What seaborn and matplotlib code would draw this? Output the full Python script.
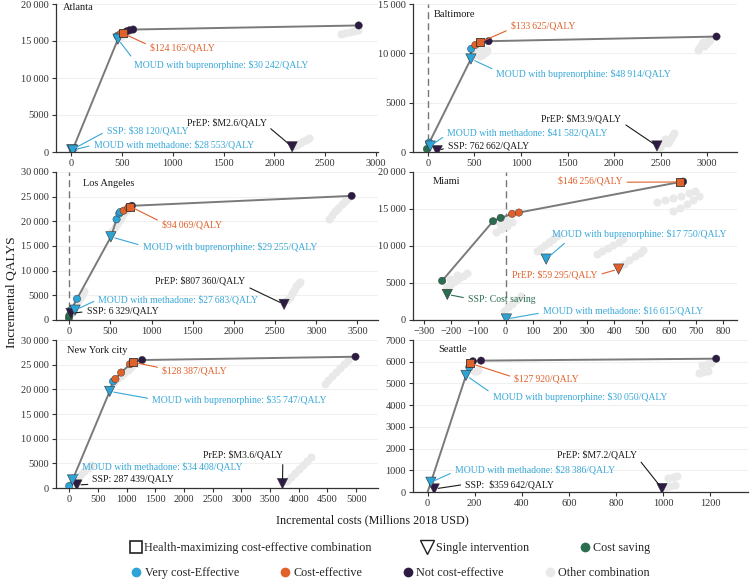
import pandas as pd
import matplotlib.pyplot as plt
import seaborn as sns
from matplotlib.lines import Line2D
from matplotlib.ticker import FuncFormatter, MultipleLocator

sns.set_theme(style="white")
plt.rcParams['font.family'] = ['Liberation Serif', 'DejaVu Serif']

TS = '\u2009'
# V very cost-effective, C cost-effective, N not cost-effective, S cost saving
PALETTE = {'V': '#2ea3d5', 'C': '#e0612a', 'N': '#2d1a45', 'S': '#2b6d50'}
TEXT_COL = {'V': '#38a8d8', 'C': '#e0612a', 'N': '#1a1a1a', 'S': '#2b6d50'}
OTHER = '#e9e9e9'
SINGLES = ['SSP', 'MOUD with methadone', 'MOUD with buprenorphine', 'PrEP']

# ---------------- Atlanta
atl_front_x = [0, 15, 460, 485, 505, 545, 575, 610, 2830]
atl_front_y = [0, 350, 15250, 15950, 16050, 16300, 16450, 16550, 17100]
atl_dot_x = [15, 455, 485, 545, 575, 610, 2830]
atl_dot_y = [350, 15700, 15950, 16300, 16450, 16550, 17100]
atl_dot_cat = ['V', 'V', 'C', 'N', 'N', 'N', 'N']
atl_best = (505, 16050)
atl_best_lab = f'$124{TS}165/QALY'
atl_single_x = [5, 15, 460, 2175]
atl_single_y = [300, 250, 15250, 700]
atl_single_cat = ['V', 'V', 'V', 'N']
atl_single_lab = [f'$38{TS}120/QALY', f'$28{TS}553/QALY', f'$30{TS}242/QALY', '$M2.6/QALY']
atl_other_x = [10, 30, 470, 500, 530, 560, 2660, 2700, 2740, 2780, 2820,
               2190, 2220, 2250, 2280, 2310, 2340]
atl_other_y = [150, 350, 15500, 15700, 15950, 16200, 15950, 16100, 16250, 16400, 16550,
               750, 1000, 1200, 1450, 1650, 1850]

# ---------------- Baltimore
bal_front_x = [-10, 15, 462, 465, 510, 555, 652, 3100]
bal_front_y = [300, 950, 9430, 10450, 10850, 11100, 11230, 11700]
bal_dot_x = [-10, 15, 465, 510, 652, 3100]
bal_dot_y = [300, 950, 10450, 10850, 11230, 11700]
bal_dot_cat = ['S', 'V', 'V', 'C', 'N', 'N']
bal_best = (555, 11100)
bal_best_lab = f'$133{TS}625/QALY'
bal_single_x = [100, 25, 462, 2460]
bal_single_y = [130, 600, 9430, 610]
bal_single_cat = ['N', 'V', 'V', 'N']
bal_single_lab = [f'762{TS}662/QALY', f'$41{TS}582/QALY', f'$48{TS}914/QALY', '$M3.9/QALY']
bal_other_x = [500, 520, 540, 560, 580, 560, 580, 600, 620, 640,
               2900, 2915, 2930, 2945, 2960, 2970, 2985, 3000, 3015, 3030,
               2490, 2505, 2520, 2535, 2550, 2580, 2595, 2610, 2625, 2640]
bal_other_y = [9800, 9950, 10100, 10250, 10400, 9700, 9850, 10000, 10150, 10300,
               10300, 10500, 10700, 10900, 11100, 10700, 10900, 11100, 11300, 11500,
               500, 700, 900, 1100, 1300, 900, 1150, 1400, 1650, 1900]

# ---------------- Los Angeles
la_front_x = [0, 20, 93, 505, 574, 607, 619, 660, 716, 740, 760, 3430]
la_front_y = [900, 2000, 4300, 16860, 20400, 21600, 21900, 22150, 22800, 23000, 23150, 25160]
la_dot_x = [-5, 0, 20, 93, 574, 607, 619, 660, 716, 760, 3430]
la_dot_y = [400, 900, 2000, 4300, 20400, 21600, 21900, 22150, 22800, 23150, 25160]
la_dot_cat = ['S', 'S', 'V', 'V', 'V', 'V', 'V', 'C', 'C', 'N', 'N']
la_best = (740, 23000)
la_best_lab = f'$94{TS}069/QALY'
la_single_x = [20, 69, 505, 2609]
la_single_y = [1350, 2000, 16860, 3170]
la_single_cat = ['N', 'V', 'V', 'N']
la_single_lab = [f'6{TS}329/QALY', f'$27{TS}683/QALY', f'$29{TS}255/QALY', f'$807{TS}360/QALY']
la_other_x = [30, 55, 80, 105, 130, 155, 180, 520, 550, 580, 610, 640, 670, 700,
              3150, 3190, 3230, 3270, 3310, 3350, 3390, 2650, 2675, 2700, 2725, 2750, 2775, 2800]
la_other_y = [1500, 2250, 3000, 3750, 4500, 5150, 5800, 18000, 18750, 19500, 20250, 21000, 21650, 22300,
              20500, 21250, 22000, 22750, 23500, 24100, 24700, 4000, 4750, 5500, 6150, 6800, 7300, 7800]

# ---------------- Miami
mia_front_x = [-233, -46, -18, 24, 49, 641, 652]
mia_front_y = [5300, 13350, 13800, 14340, 14520, 18650, 18700]
mia_dot_x = [-233, -46, -18, 24, 49, 652]
mia_dot_y = [5300, 13350, 13800, 14340, 14520, 18700]
mia_dot_cat = ['S', 'S', 'S', 'C', 'C', 'N']
mia_best = (641, 18650)
mia_best_lab = f'$146{TS}256/QALY'
mia_single_x = [-214, 3, 149, 415]
mia_single_y = [3460, 135, 8230, 6880]
mia_single_cat = ['S', 'V', 'V', 'C']
mia_single_lab = ['Cost saving', f'$16{TS}615/QALY', f'$17{TS}750/QALY', f'$59{TS}295/QALY']
mia_other_x = [-215, -200, -185, -170, -155, -140, -205, -180,
               -35, -15, 5, 25, -20, 0,
               -5, 10, 25, 40, 55,
               115, 130, 145, 160, 175, 190,
               335, 355, 375, 395, 415, 430,
               415, 435, 455, 475, 495, 505,
               555, 585, 615, 645, 675, 695,
               615, 640, 665, 690, 710]
mia_other_y = [4500, 4900, 5300, 5700, 6000, 6300, 5600, 6100,
               11900, 12300, 12700, 13200, 13000, 13500,
               1200, 1700, 2200, 2700, 3200,
               9300, 9700, 10100, 10500, 10900, 11400,
               8900, 9300, 9700, 10100, 10500, 10900,
               7100, 7600, 8100, 8600, 9100, 9500,
               15900, 16200, 16500, 16800, 17100, 17400,
               14700, 15200, 15700, 16200, 16700]

# ---------------- New York city
nyc_front_x = [0, 58, 705, 765, 805, 905, 1060, 1110, 1271, 4988]
nyc_front_y = [400, 1630, 19590, 21600, 22100, 23400, 25100, 25500, 25940, 26610]
nyc_dot_x = [0, 765, 805, 905, 1060, 1271, 4988]
nyc_dot_y = [400, 21600, 22100, 23400, 25100, 25940, 26610]
nyc_dot_cat = ['V', 'V', 'C', 'C', 'C', 'N', 'N']
nyc_best = (1110, 25500)
nyc_best_lab = f'$128{TS}387/QALY'
nyc_single_x = [133, 58, 705, 3716]
nyc_single_y = [610, 1630, 19590, 890]
nyc_single_cat = ['N', 'V', 'V', 'N']
nyc_single_lab = [f'287{TS}439/QALY', f'$34{TS}408/QALY', f'$35{TS}747/QALY', '$M3.6/QALY']
nyc_other_x = [50, 100, 150, 205, 260, 320, 380, 780, 840, 900, 960, 1020, 1080, 1140,
               4450, 4515, 4580, 4650, 4720, 4785, 4850, 3800, 3870, 3940, 4010, 4080, 4150, 4220]
nyc_other_y = [1200, 1750, 2300, 2850, 3400, 4000, 4600, 21500, 22150, 22800, 23400, 24000, 24550, 25100,
               21000, 21850, 22700, 23550, 24400, 25150, 25900, 1400, 2200, 3000, 3850, 4700, 5500, 6300]

# ---------------- Seattle
sea_front_x = [0, 14, 163, 177, 180, 192, 227, 1225]
sea_front_y = [0, 450, 5370, 5750, 5930, 6020, 6050, 6140]
sea_dot_x = [177, 192, 227, 1225]
sea_dot_y = [5750, 6020, 6050, 6140]
sea_dot_cat = ['V', 'N', 'N', 'N']
sea_best = (180, 5930)
sea_best_lab = f'$127{TS}920/QALY'
sea_single_x = [28, 14, 163, 995]
sea_single_y = [140, 450, 5370, 160]
sea_single_cat = ['N', 'V', 'V', 'N']
sea_single_lab = [f' $359{TS}642/QALY', f'$28{TS}386/QALY', f'$30{TS}050/QALY', '$M7.2/QALY']
sea_other_x = [195, 205, 215, 1150, 1170, 1190, 1165, 1185, 1205, 1010, 1030, 1050, 1020, 1040, 1060]
sea_other_y = [5550, 5585, 5620, 5500, 5540, 5580, 5850, 5890, 5930, 250, 290, 330, 650, 690, 730]


def city(name, p):
    g = globals()
    return dict(name=name, **{k: g[f'{p}_{k}'] for k in
                ['front_x', 'front_y', 'dot_x', 'dot_y', 'dot_cat', 'best', 'best_lab',
                 'single_x', 'single_y', 'single_cat', 'single_lab', 'other_x', 'other_y']})


cities = [city('Atlanta', 'atl'), city('Baltimore', 'bal'), city('Los Angeles', 'la'),
          city('Miami', 'mia'), city('New York city', 'nyc'), city('Seattle', 'sea')]

# layout: axes rect, limits, tick steps, zero line, title pos,
# label positions [SSP, methadone, buprenorphine, PrEP, best] as (x, y, relpos)
W, H = 750, 581
def rect(l, t, r, b):
    return [l / W, 1 - b / H, (r - l) / W, (b - t) / H]

layout = [
    dict(rect=rect(56, 4, 378, 152), xlim=(-150, 3020), ylim=(0, 20000), xs=500, ys=5000, zero=False,
         title=(0.022, 0.975),
         labs=[(350, 2850, (0, 0.5)), (220, 950, (0, 0.5)), (620, 11700, (0, 1)),
               (1135, 3900, (1, 0.3)), (775, 14100, (0, 0.7))]),
    dict(rect=rect(413, 4, 737, 152), xlim=(-160, 3320), ylim=(0, 15000), xs=500, ys=5000, zero=True,
         title=(0.063, 0.93),
         labs=[(215, 640, (0, 0.3)), (205, 1970, (0, 0.3)), (735, 7940, (0, 0.8)),
               (1220, 3330, (1, 0.2)), (890, 12770, (0, 0.2))]),
    dict(rect=rect(56, 172, 378, 320), xlim=(-162, 3750), ylim=(0, 30000), xs=500, ys=5000, zero=True,
         title=(0.085, 0.92),
         labs=[(210, 1890, (0, 0.4)), (352, 4190, (0, 0.5)), (890, 14840, (0, 0.6)),
               (1044, 7890, (1, 0.0)), (1125, 19230, (0, 0.8))]),
    dict(rect=rect(413, 172, 737, 320), xlim=(-340, 850), ylim=(0, 20000), xs=100, ys=5000, zero=True,
         title=(0.06, 0.935),
         labs=[(-138, 2790, (0, 0.6)), (137, 1260, (0, 0.3)), (170, 11600, (0.1, 0)),
               (24, 6070, (1, 0.5)), (192, 18880, (1, 0.3))]),
    dict(rect=rect(56, 340, 378, 488), xlim=(-230, 5380), ylim=(0, 30000), xs=500, ys=5000, zero=False,
         title=(0.035, 0.93),
         labs=[(405, 1770, (0.1, 0)), (231, 4270, (0, 0.2)), (1445, 17820, (0, 0.6)),
               (2330, 6640, (1, 0)), (1618, 23710, (0, 0.8))]),
    dict(rect=rect(413, 340, 748, 492), xlim=(-62, 1360), ylim=(0, 7000), xs=200, ys=1000, zero=False,
         title=(0.075, 0.94),
         labs=[(160, 355, (0, 0.5)), (115, 1030, (0, 0.3)), (276, 4380, (0, 0.8)),
               (549, 1700, (1, 0.3)), (368, 5230, (0, 0.6))]),
]


def fmt(v, pos):
    s = f'{abs(int(round(v)))}'
    if len(s) > 4:
        s = s[:-3] + TS + s[-3:]
    return ('\u2212' if v < 0 else '') + s


def draw(ax, c, lay):
    ax.set_xlim(*lay['xlim'])
    ax.set_ylim(*lay['ylim'])
    if lay['zero']:
        ax.axvline(0, color='#777777', lw=1, ls=(0, (5, 3)), zorder=1)
    sns.scatterplot(x=c['other_x'], y=c['other_y'], color=OTHER, s=34, linewidth=0, ax=ax, zorder=2)
    sns.lineplot(x=c['front_x'], y=c['front_y'], sort=False, estimator=None, color='#7a7a7a',
                 lw=1.4, ax=ax, zorder=3)
    dots = pd.DataFrame({'x': c['dot_x'], 'y': c['dot_y'], 'cat': c['dot_cat']})
    sns.scatterplot(data=dots, x='x', y='y', hue='cat', palette=PALETTE, s=28, linewidth=0.3,
                    edgecolor='#333333', legend=False, ax=ax, zorder=4)
    sing = pd.DataFrame({'x': c['single_x'], 'y': c['single_y'], 'cat': c['single_cat']})
    sns.scatterplot(data=sing, x='x', y='y', hue='cat', palette=PALETTE, marker='v', s=55,
                    linewidth=0.4, edgecolor='#333333', legend=False, ax=ax, zorder=5)
    bx, by = c['best']
    sns.scatterplot(x=[bx], y=[by], color=PALETTE['C'], marker='s', s=30, linewidth=0.6,
                    edgecolor='#333333', ax=ax, zorder=6)

    texts = [f'{n}: {l}' for n, l in zip(SINGLES, c['single_lab'])] + [c['best_lab']]
    pts = list(zip(c['single_x'], c['single_y'])) + [c['best']]
    cats = list(c['single_cat']) + ['C']
    for t, p, k, (tx, ty, rp) in zip(texts, pts, cats, lay['labs']):
        col = TEXT_COL[k]
        ax.annotate(t, xy=p, xytext=(tx, ty), ha='left', va='center', fontsize=7, color=col,
                    arrowprops=dict(arrowstyle='-', color=col, lw=0.8, relpos=rp,
                                    shrinkA=1, shrinkB=3), zorder=7)

    ax.text(*lay['title'], c['name'], transform=ax.transAxes, ha='left', va='center',
            fontsize=7.5, color='#1a1a1a')
    ax.xaxis.set_major_locator(MultipleLocator(lay['xs']))
    ax.yaxis.set_major_locator(MultipleLocator(lay['ys']))
    ax.xaxis.set_major_formatter(FuncFormatter(fmt))
    ax.yaxis.set_major_formatter(FuncFormatter(fmt))
    ax.set_xlim(*lay['xlim'])
    ax.set_ylim(*lay['ylim'])
    ax.set_xlabel('')
    ax.set_ylabel('')
    ax.yaxis.grid(True, color='#f0f0f0', lw=0.8)
    ax.set_axisbelow(True)
    sns.despine(ax=ax)
    for s in ['left', 'bottom']:
        ax.spines[s].set_color('#333333')
        ax.spines[s].set_linewidth(0.9)
    ax.tick_params(axis='both', length=3, width=0.8, color='#333333', labelsize=7.5,
                   labelcolor='#333333', pad=2, bottom=True, left=True)


fig = plt.figure(figsize=(7.5, 5.81), dpi=100)
for c, lay in zip(cities, layout):
    ax = fig.add_axes(lay['rect'])
    draw(ax, c, lay)

fig.text(0.497, 1 - 520 / H, 'Incremental costs (Millions 2018 USD)', ha='center', va='center',
         fontsize=8.7, color='#1a1a1a')
fig.text(0.016, 1 - 292 / H, 'Incremental QALYS', ha='center', va='center', rotation=90,
         fontsize=9.7, color='#1a1a1a')

row1 = [Line2D([], [], ls='', marker='s', ms=8, mfc='none', mec='#222222', mew=1.2),
        Line2D([], [], ls='', marker='v', ms=10, mfc='none', mec='#222222', mew=1.0),
        Line2D([], [], ls='', marker='o', ms=7, mfc=PALETTE['S'], mec='none')]
row2 = [Line2D([], [], ls='', marker='o', ms=7, mfc=PALETTE['V'], mec='none'),
        Line2D([], [], ls='', marker='o', ms=7, mfc=PALETTE['C'], mec='none'),
        Line2D([], [], ls='', marker='o', ms=7, mfc=PALETTE['N'], mec='none'),
        Line2D([], [], ls='', marker='o', ms=7, mfc=OTHER, mec='none')]
kw = dict(frameon=False, fontsize=8.7, handletextpad=0.2, handlelength=1.0, borderaxespad=0)
fig.legend(row1, ['Health-maximizing cost-effective combination', 'Single intervention', 'Cost saving'],
           loc='center', bbox_to_anchor=(0.52, 1 - 548 / H), ncol=3, columnspacing=4.1, **kw)
fig.legend(row2, ['Very cost-Effective', 'Cost-effective', 'Not cost-effective', 'Other combination'],
           loc='center', bbox_to_anchor=(0.52, 1 - 573 / H), ncol=4, columnspacing=3.3, **kw)

fig.savefig('out.png', dpi=100)
